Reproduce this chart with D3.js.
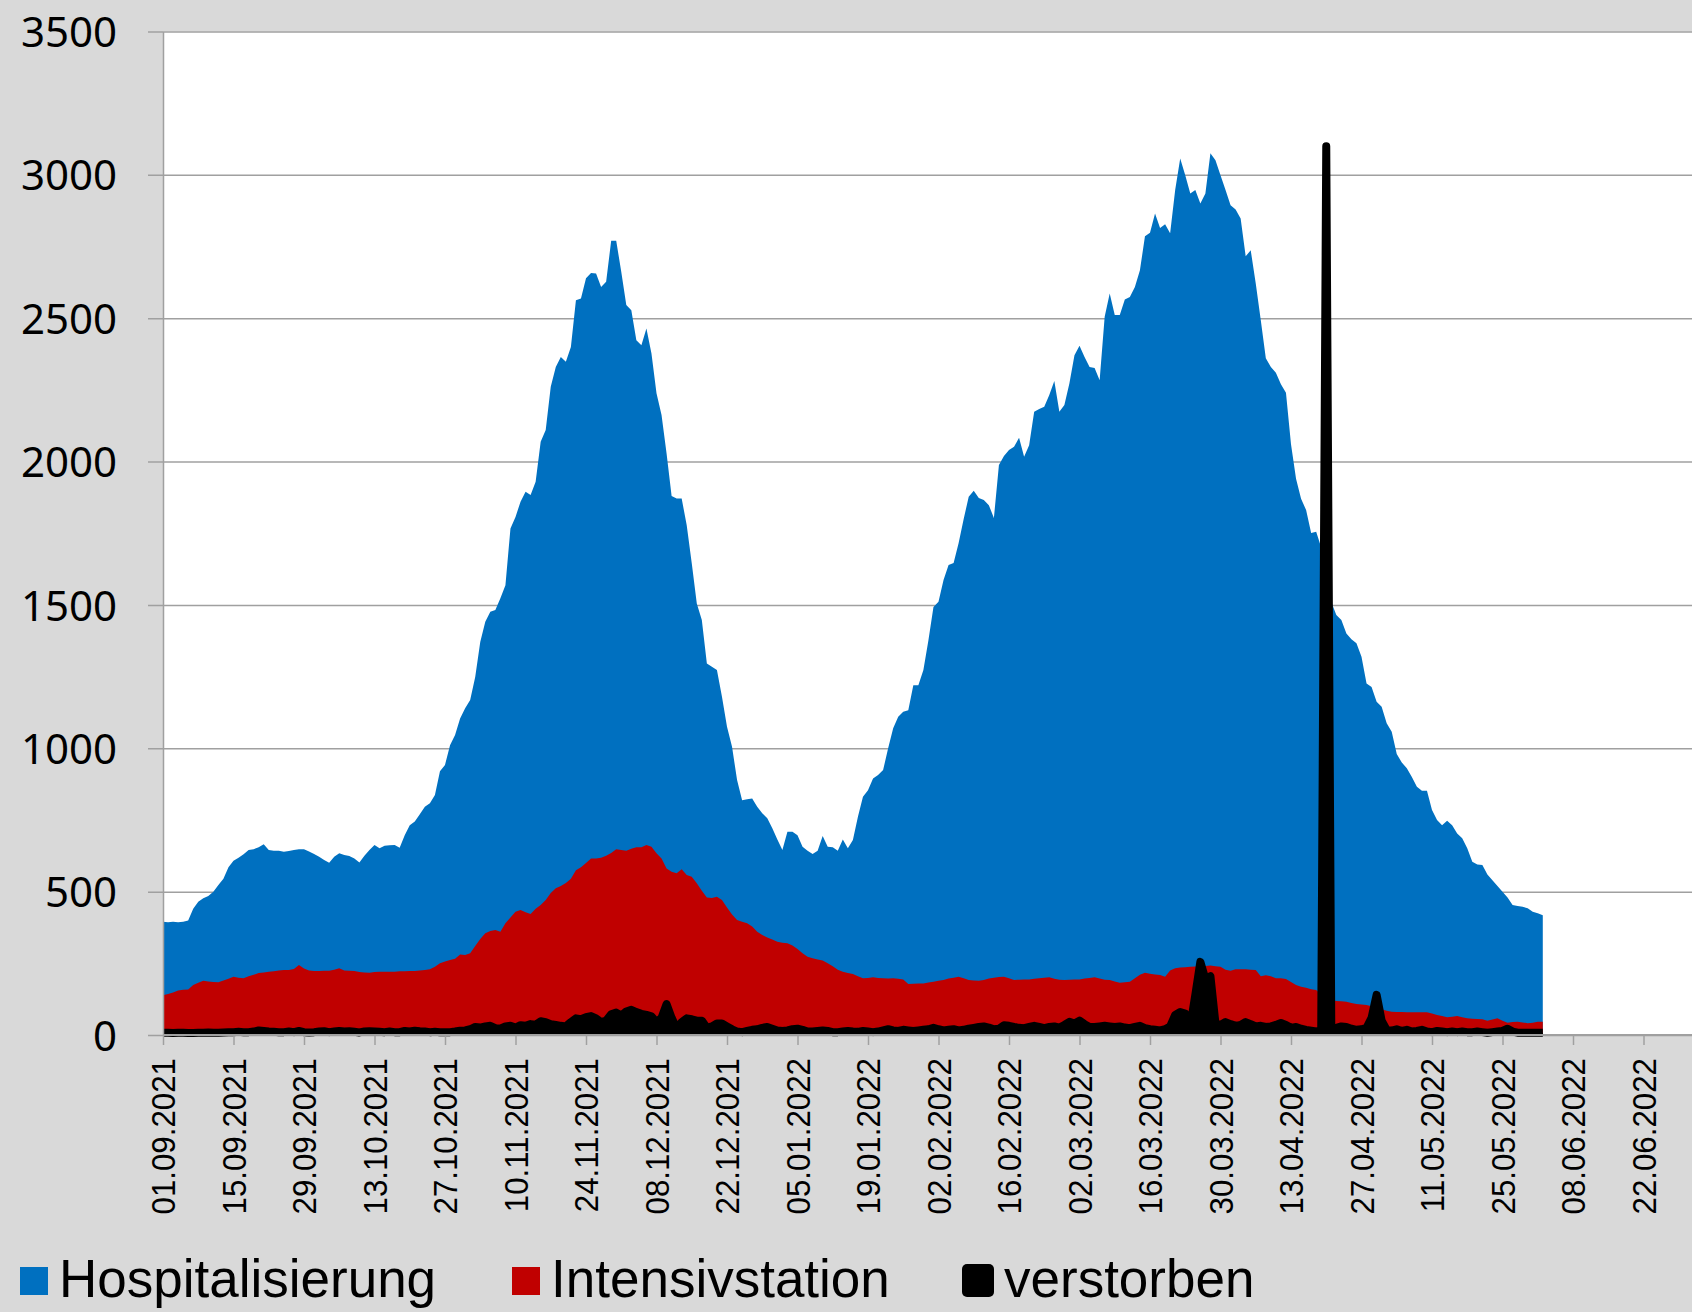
<!DOCTYPE html>
<html>
<head>
<meta charset="utf-8">
<script src="https://cdn.jsdelivr.net/npm/d3@7/dist/d3.min.js"></script>
<style>
  body { margin: 0; background: #d9d9d9; }
</style>
</head>
<body>
<script>
// daily values from 01.09.2021
const startDate = '01.09.2021';

const hospitalisierung = [
  395,393,395,393,395,399,440,465,477,485,
  500,523,545,585,608,618,630,645,648,655,
  665,645,643,643,639,642,645,648,648,640,
  631,622,610,601,622,634,628,624,616,602,
  625,645,663,651,660,662,663,653,697,732,
  745,770,796,808,837,920,942,1011,1046,1104,
  1140,1168,1249,1371,1441,1476,1482,1523,1569,1767,
  1807,1860,1895,1883,1930,2069,2110,2261,2330,2365,
  2348,2400,2563,2569,2639,2658,2656,2609,2627,2770,
  2770,2662,2546,2528,2423,2406,2464,2377,2238,2162,
  2028,1880,1871,1871,1778,1645,1505,1447,1296,1284,
  1273,1180,1075,1005,889,819,822,825,796,773,
  756,721,682,645,709,709,697,657,643,631,
  643,694,657,655,643,682,651,680,761,831,
  854,895,907,924,1000,1070,1110,1127,1133,1220,
  1220,1273,1377,1493,1511,1587,1639,1646,1716,1800,
  1877,1898,1873,1866,1848,1803,1988,2019,2040,2052,
  2083,2017,2057,2174,2183,2191,2232,2281,2174,2197,
  2273,2371,2404,2365,2330,2326,2284,2505,2586,2511,
  2511,2565,2574,2609,2667,2786,2798,2865,2815,2828,
  2796,2947,3057,2999,2935,2947,2900,2935,3075,3051,
  2999,2947,2894,2879,2848,2716,2737,2621,2493,2360,
  2330,2310,2270,2240,2060,1940,1870,1831,1751,1755,
  1700,1600,1510,1465,1447,1400,1380,1366,1319,1226,
  1214,1162,1145,1087,1058,980,950,930,900,866,
  852,852,785,750,732,747,732,703,686,651,
  604,595,593,560,540,520,500,480,453,450,
  447,442,430,425,418
];

const intensivstation = [
  139,143,148,155,158,159,174,182,189,187,
  185,184,190,196,203,200,198,205,210,216,
  218,221,222,225,227,227,230,244,232,225,
  223,223,224,224,228,233,225,224,223,220,
  218,217,220,221,221,221,221,222,222,223,
  223,225,227,229,238,250,256,262,266,281,
  279,285,310,335,355,363,366,360,390,410,
  430,436,428,422,440,453,471,495,512,520,
  530,545,575,585,600,616,616,618,625,635,
  648,645,643,650,655,655,663,657,634,616,
  581,569,564,578,558,552,529,503,480,478,
  482,471,445,420,401,395,390,378,360,349,
  340,333,325,322,320,312,300,285,273,268,
  263,260,250,240,228,221,216,213,205,198,
  199,201,199,198,197,198,196,194,178,179,
  180,180,183,186,189,192,197,200,203,198,
  192,190,189,192,197,200,202,203,198,192,
  193,194,194,196,198,200,201,196,193,192,
  193,194,194,197,199,201,197,193,192,187,
  182,184,186,198,210,217,214,211,209,203,
  225,233,235,236,238,239,240,241,242,240,
  238,228,224,229,229,229,228,227,205,208,
  205,198,198,195,185,174,168,165,160,157,
  140,130,122,119,118,116,112,108,106,105,
  100,95,90,85,81,80,80,79,79,79,
  79,79,75,70,66,62,64,66,62,58,
  57,56,55,50,54,58,50,43,45,46,
  44,41,43,46,46
];

const verstorben = [
  8,8,7,8,8,7,7,8,8,9,
  8,8,9,10,10,11,10,10,12,16,
  14,12,11,10,10,12,10,14,10,9,
  10,12,13,10,12,14,12,13,11,9,
  12,13,12,11,10,12,10,10,14,12,
  15,13,12,10,11,10,10,10,12,15,
  16,20,28,26,30,32,24,22,30,32,
  26,34,32,38,36,48,45,38,35,32,
  30,45,58,55,62,66,58,45,50,72,
  78,68,82,88,80,74,70,65,45,60,
  108,60,22,45,58,55,50,50,25,30,
  40,40,30,20,12,10,14,18,20,25,
  28,22,16,14,16,20,22,18,12,12,
  14,16,14,10,10,12,14,12,11,14,
  12,10,12,16,20,16,14,18,16,14,
  16,18,20,25,20,16,18,20,16,18,
  22,25,28,30,26,20,22,34,32,28,
  25,24,28,32,28,24,28,30,26,35,
  46,40,50,38,28,28,30,32,30,28,
  30,26,24,28,32,24,20,18,16,20,
  30,70,80,75,30,140,255,195,205,40,
  35,45,38,32,35,45,38,30,32,28,
  30,35,42,35,25,28,22,18,15,12,
  15,3100,20,25,30,28,22,18,20,25,
  60,140,50,18,15,20,14,18,12,14,
  18,12,10,14,12,10,12,10,12,10,
  10,12,10,8,10,12,14,22,12,8,
  8,8,8,8,8
];

const tickLabels = [
  '01.09.2021','15.09.2021','29.09.2021','13.10.2021','27.10.2021','10.11.2021',
  '24.11.2021','08.12.2021','22.12.2021','05.01.2022','19.01.2022','02.02.2022',
  '16.02.2022','02.03.2022','16.03.2022','30.03.2022','13.04.2022','27.04.2022',
  '11.05.2022','25.05.2022','08.06.2022','22.06.2022'
];
const yTicks = [0, 500, 1000, 1500, 2000, 2500, 3000, 3500];

const seriesNames = ['Hospitalisierung', 'Intensivstation', 'verstorben'];
const seriesColors = ['#0070c0', '#c00000', '#000000'];

// layout
const W = 1692, H = 1312;
const plotLeft = 163, plotTop = 31.5, plotBottom = 1035;
const grey = '#a0a0a0';

const svg = d3.select('body')
  .append('svg')
  .attr('width', W)
  .attr('height', H);

svg.append('rect')
  .attr('width', W)
  .attr('height', H)
  .attr('fill', '#d9d9d9');

const parse = d3.utcParse('%d.%m.%Y');
const t0 = parse(startDate);
const ticks = tickLabels.map(parse);

const x = d3.scaleUtc()
  .domain([ticks[0], ticks[ticks.length - 1]])
  .range([plotLeft, 1643.5]);

const y = d3.scaleLinear()
  .domain([0, 3500])
  .range([plotBottom, plotTop]);

// plot area
svg.append('rect')
  .attr('x', plotLeft)
  .attr('y', plotTop)
  .attr('width', W - plotLeft)
  .attr('height', plotBottom - plotTop)
  .attr('fill', '#fff');

// gridlines (they also form the small outside ticks)
const grid = svg.append('g')
  .attr('transform', `translate(${plotLeft - 15},0)`)
  .call(d3.axisRight(y).tickValues(yTicks).tickSize(W - plotLeft + 15).tickFormat(''));
grid.select('.domain').remove();
grid.selectAll('line').attr('stroke', grey).attr('stroke-width', 1.5);

// data
const rows = hospitalisierung.map((d, i) => ({
  date: d3.utcDay.offset(t0, i),
  values: [d, intensivstation[i], verstorben[i]]
}));

seriesNames.forEach((name, k) => {
  const area = d3.area()
    .x(d => x(d.date))
    .y0(y(0))
    .y1(d => y(d.values[k]));
  svg.append('path')
    .datum(rows)
    .attr('d', area)
    .attr('fill', seriesColors[k]);
});

// the deaths series has a thick outline
svg.append('path')
  .datum(rows)
  .attr('d', d3.line().x(d => x(d.date)).y(d => y(d.values[2])))
  .attr('fill', 'none')
  .attr('stroke', '#000')
  .attr('stroke-width', 8)
  .attr('stroke-linejoin', 'round')
  .attr('stroke-linecap', 'butt');

// y axis
const yAxis = svg.append('g')
  .attr('transform', `translate(${plotLeft},0)`)
  .call(d3.axisLeft(y).tickValues(yTicks).tickSize(0).tickPadding(46).tickFormat(d3.format('d')));
yAxis.select('.domain').attr('stroke', grey).attr('stroke-width', 1.5);
yAxis.selectAll('text')
  .attr('font-family', '"Noto Sans", sans-serif')
  .attr('font-size', 42)
  .attr('fill', '#000')
  .attr('dy', '0.36em');

// x axis
svg.append('line')
  .attr('x1', plotLeft).attr('x2', W)
  .attr('y1', plotBottom).attr('y2', plotBottom)
  .attr('stroke', grey).attr('stroke-width', 2);

const xAxis = svg.append('g')
  .attr('transform', `translate(0,${plotBottom})`)
  .call(d3.axisBottom(x).tickValues(ticks).tickSize(10).tickFormat(''));
xAxis.select('.domain').remove();
xAxis.selectAll('line').attr('stroke', grey).attr('stroke-width', 1.5);

svg.append('g')
  .selectAll('text')
  .data(ticks)
  .join('text')
  .attr('transform', d => `translate(${x(d)},1058) rotate(-90) scale(0.92,1)`)
  .attr('text-anchor', 'end')
  .attr('dy', '0.36em')
  .attr('font-family', '"Liberation Sans", Arial, sans-serif')
  .attr('font-size', 34)
  .attr('fill', '#000')
  .text((d, i) => tickLabels[i]);

// legend
const legendX = [20, 512, 962];
const legendTextX = [59, 551, 1004];
const legend = svg.append('g')
  .selectAll('g')
  .data(seriesNames)
  .join('g');

legend.append('rect')
  .attr('x', (d, i) => legendX[i])
  .attr('y', (d, i) => i === 2 ? 1264 : 1267)
  .attr('width', (d, i) => i === 2 ? 32 : 28)
  .attr('height', (d, i) => i === 2 ? 33 : 28)
  .attr('rx', (d, i) => i === 2 ? 5 : 0)
  .attr('fill', (d, i) => seriesColors[i]);

legend.append('text')
  .attr('x', (d, i) => legendTextX[i])
  .attr('y', 1297)
  .attr('font-family', '"Liberation Sans", Arial, sans-serif')
  .attr('font-size', 53)
  .attr('fill', '#000')
  .text(d => d);
</script>
</body>
</html>
